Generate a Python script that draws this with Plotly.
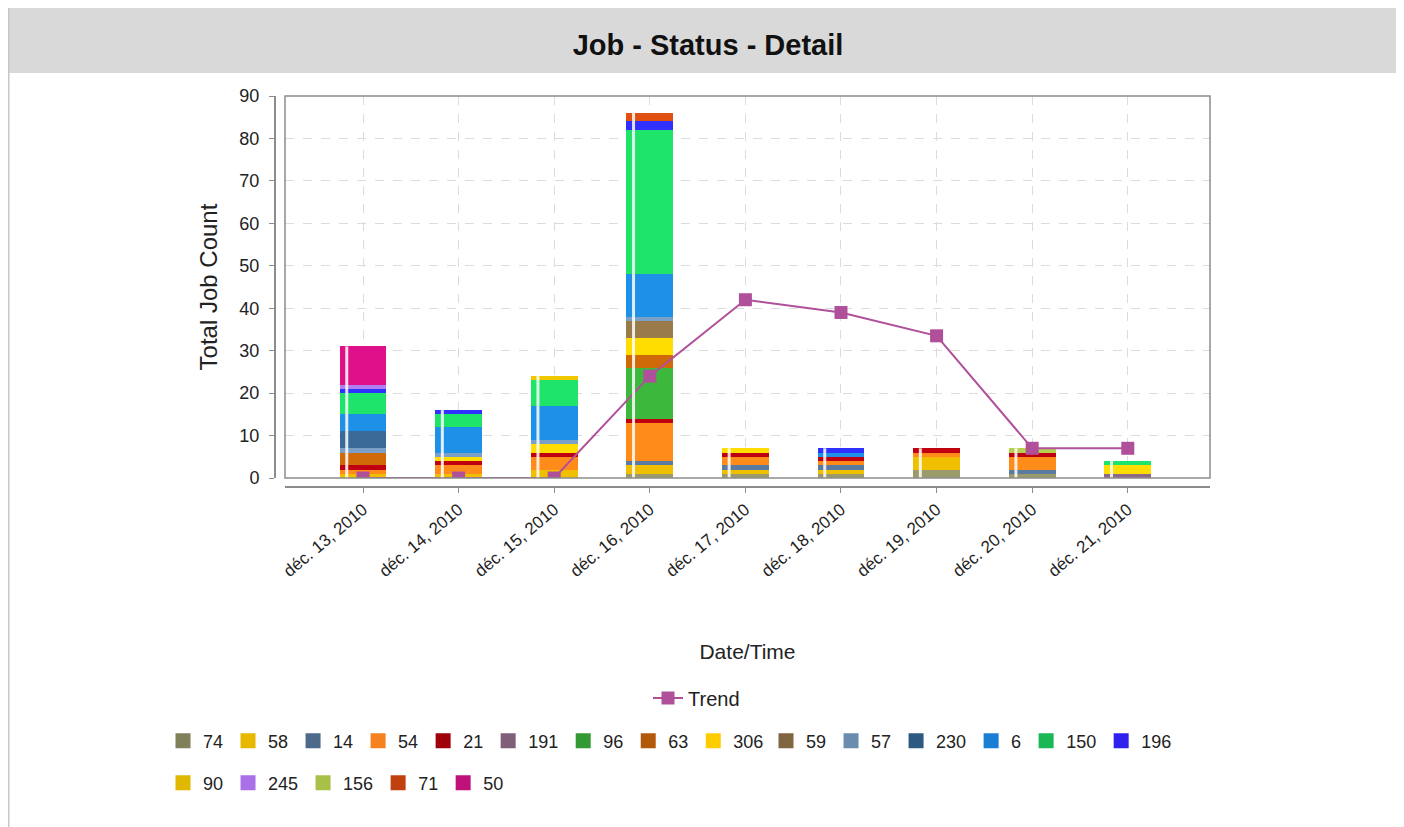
import plotly.graph_objects as go

dates = ["déc. 13, 2010", "déc. 14, 2010", "déc. 15, 2010", "déc. 16, 2010", "déc. 17, 2010",
         "déc. 18, 2010", "déc. 19, 2010", "déc. 20, 2010", "déc. 21, 2010"]

series_names = ["74", "58", "14", "54", "21", "191", "96", "63", "306", "59",
                "57", "230", "6", "150", "196", "90", "245", "156", "71", "50"]

# legend swatch colours
legend_colors = ["#80805a", "#e6b800", "#4d6a8a", "#f5821f", "#a0000a", "#806078", "#339933",
                 "#b35a0a", "#ffcc00", "#806640", "#6a8caf", "#2e5a82", "#1a7fd4", "#1ab855",
                 "#3020ee", "#e0b800", "#aa70e8", "#a8c048", "#c04010", "#c0107a"]
# bar fill colours (brighter, the reference bars use a gradient painter)
bar_colors = ["#9a9a6a", "#f0c000", "#5a7aa0", "#ff8c1a", "#c00010", "#8c6a88", "#3cb83c",
              "#d06a08", "#ffdd00", "#9a7a4a", "#7aa0c8", "#3a6a98", "#1e90e8", "#1ee46a",
              "#3030ff", "#f0c800", "#b080f0", "#b8d050", "#e05010", "#e0108a"]

v74 = [0, 0, 0, 1, 1, 1, 2, 1, 0]
v58 = [1, 1, 2, 2, 1, 1, 3, 0, 0]
v14 = [0, 0, 0, 1, 1, 1, 0, 1, 0]
v54 = [1, 2, 3, 9, 2, 1, 1, 3, 0]
v21 = [1, 1, 1, 1, 1, 1, 1, 1, 0]
v191 = [0, 0, 0, 0, 0, 0, 0, 0, 1]
v96 = [0, 0, 0, 12, 0, 0, 0, 0, 0]
v63 = [3, 0, 0, 3, 0, 0, 0, 0, 0]
v306 = [0, 1, 2, 4, 1, 0, 0, 0, 2]
v59 = [0, 0, 0, 4, 0, 0, 0, 0, 0]
v57 = [1, 1, 1, 1, 0, 0, 0, 0, 0]
v230 = [4, 0, 0, 0, 0, 0, 0, 0, 0]
v6 = [4, 6, 8, 10, 0, 1, 0, 0, 0]
v150 = [5, 3, 6, 34, 0, 0, 0, 0, 1]
v196 = [1, 1, 0, 2, 0, 1, 0, 0, 0]
v90 = [0, 0, 1, 0, 0, 0, 0, 0, 0]
v245 = [1, 0, 0, 0, 0, 0, 0, 0, 0]
v156 = [0, 0, 0, 0, 0, 0, 0, 1, 0]
v71 = [0, 0, 0, 2, 0, 0, 0, 0, 0]
v50 = [9, 0, 0, 0, 0, 0, 0, 0, 0]

series_values = [v74, v58, v14, v54, v21, v191, v96, v63, v306, v59,
                 v57, v230, v6, v150, v196, v90, v245, v156, v71, v50]

trend = [0, 0, 0, 24, 42, 39, 33.5, 7, 7]

FONT = "Liberation Sans, Arial, sans-serif"
# the page body adds an 8px offset, so the figure is 8px smaller than the window
W, H = 1396, 819
XRANGE = [-0.816, 8.86]
BAR_W = 0.49

fig = go.Figure()
for i, (name, color, vals) in enumerate(zip(series_names, bar_colors, series_values)):
    fig.add_trace(go.Bar(
        x=dates, y=vals, name=name, marker=dict(color=color, line=dict(width=0)),
        width=BAR_W, showlegend=False, hoverinfo="name+y",
    ))

# highlight stripe near the left edge of every stacked bar (gradient painter look)
totals = [sum(s[j] for s in series_values) for j in range(len(dates))]
sx, sy = [], []
for j, tot in enumerate(totals):
    sx += [j - 0.17, j - 0.17, None]
    sy += [0, tot, None]
fig.add_trace(go.Scatter(x=sx, y=sy, xaxis="x2", mode="lines",
                         line=dict(color="rgba(255,255,255,0.85)", width=3),
                         showlegend=False, hoverinfo="skip"))

# legend entries (swatches)
for i, (name, color) in enumerate(zip(series_names, legend_colors)):
    if i < 9:
        lg = "legend2"
    elif i < 15:
        lg = "legend4"
    else:
        lg = "legend3"
    fig.add_trace(go.Scatter(x=[None], y=[None], name=name, mode="markers",
                             marker=dict(symbol="square", size=15, color=color,
                                         line=dict(width=0)),
                             legend=lg, hoverinfo="skip"))

fig.add_trace(go.Scatter(
    x=dates, y=trend, name="Trend", mode="lines+markers",
    line=dict(color="#b0509a", width=2),
    marker=dict(symbol="square", size=13, color="#b0509a"),
    legend="legend",
))

# plot geometry (figure pixels)
L, R, T, B = 267, 194, 88, 340
PX0, PX1 = 277, 1202   # plot frame left/right
PY0, PY1 = 88, 470     # plot frame top/bottom

legend_common = dict(orientation="h", font=dict(family=FONT, size=18, color="#222"),
                     bgcolor="rgba(0,0,0,0)", xref="container", yref="container",
                     traceorder="normal", tracegroupgap=0, borderwidth=0, itemsizing="trace")

fig.update_layout(
    width=W, height=H,
    margin=dict(l=L, r=R, t=T, b=B),
    paper_bgcolor="white", plot_bgcolor="white",
    barmode="stack", bargap=0.5,
    font=dict(family=FONT, size=16, color="#222"),
    title=dict(text="<b>Job - Status - Detail</b>", x=700 / W, xanchor="center",
               y=1 - 37 / H, yanchor="middle", yref="container",
               font=dict(family=FONT, size=29, color="#111")),
    xaxis=dict(
        domain=[10 / 935, 1], anchor="free", position=0,
        range=XRANGE, type="category",
        showline=True, linecolor="#8c8c8c", linewidth=2,
        ticks="outside", ticklen=5, tickcolor="#8c8c8c",
        tickangle=-40, tickfont=dict(family=FONT, size=17, color="#222"),
        showgrid=True, gridcolor="#dcdcdc", griddash="dash", gridwidth=1,
        title=dict(text="Date/Time", font=dict(family=FONT, size=21, color="#222"), standoff=64),
    ),
    xaxis2=dict(domain=[10 / 935, 1], overlaying="x", anchor="y", range=XRANGE,
                visible=False, showgrid=False, zeroline=False),
    yaxis=dict(
        domain=[9 / 391, 1], anchor="free", position=0,
        range=[0, 90], dtick=10,
        showline=True, linecolor="#8c8c8c", linewidth=2,
        ticks="outside", ticklen=5, tickcolor="#8c8c8c", ticklabelstandoff=6,
        tickfont=dict(family=FONT, size=18, color="#222"),
        showgrid=True, gridcolor="#dcdcdc", griddash="dash", gridwidth=1,
        zeroline=False,
        title=dict(text="Total Job Count", font=dict(family=FONT, size=24, color="#222"), standoff=14),
    ),
    legend=dict(x=640 / W, y=1 - 690 / H, xanchor="left", yanchor="middle",
                **{**legend_common, "font": dict(family=FONT, size=20, color="#222")}),
    legend2=dict(x=155 / W, y=1 - 733 / H, xanchor="left", yanchor="middle", **legend_common),
    legend4=dict(x=758 / W, y=1 - 733 / H, xanchor="left", yanchor="middle", **legend_common),
    legend3=dict(x=155 / W, y=1 - 775 / H, xanchor="left", yanchor="middle", **legend_common),
    showlegend=True,
)


def px(x):
    return (x - PX0) / (PX1 - PX0)


def py(y):
    return (PY1 - y) / (PY1 - PY0)


# plot frame
fig.add_shape(type="rect", xref="x domain", yref="y domain", x0=0, x1=1, y0=0, y1=1,
              line=dict(color="#8c8c8c", width=1.5), fillcolor="rgba(0,0,0,0)", layer="above")
# title band
fig.add_shape(type="rect", xref="x domain", yref="y domain",
              x0=px(-3), x1=px(1390), y0=py(65), y1=py(-3),
              fillcolor="#d9d9d9", line=dict(width=0), layer="below")
# outer border
fig.add_shape(type="rect", xref="x domain", yref="y domain",
              x0=px(0.5), x1=px(1390), y0=py(830), y1=py(-3),
              fillcolor="rgba(0,0,0,0)", line=dict(color="#c8c8c8", width=2), layer="below")

fig.write_html("out.html")
